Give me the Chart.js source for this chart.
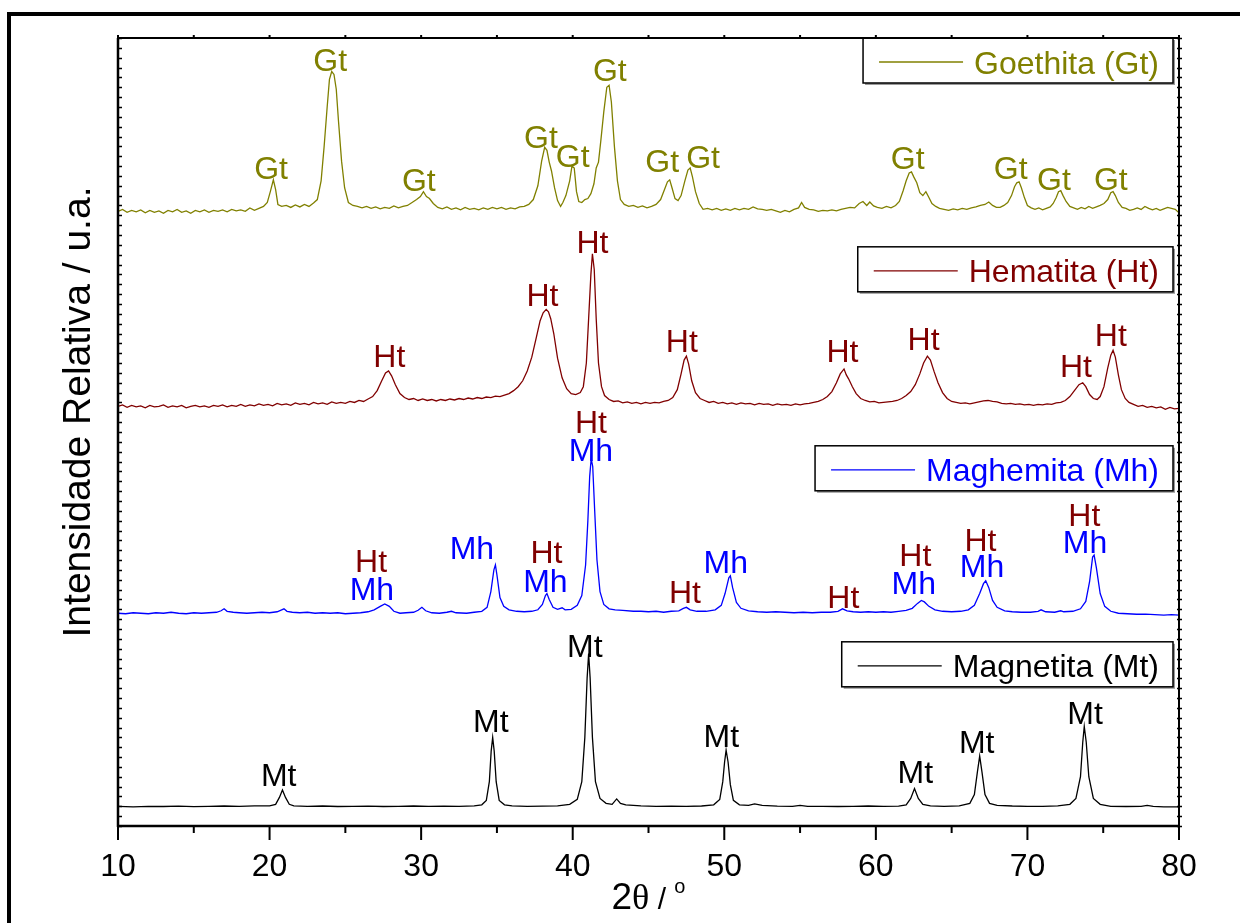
<!DOCTYPE html>
<html>
<head>
<meta charset="utf-8">
<title>DRX - óxidos de ferro</title>
<script src="https://cdn.jsdelivr.net/npm/chart.js@4.4.0/dist/chart.umd.min.js"></script>
<style>
  html, body { margin: 0; padding: 0; background: #ffffff; }
  #wrap { width: 1240px; height: 923px; position: relative; }
</style>
</head>
<body>
<div id="wrap"><canvas id="xrd" width="1240" height="923"></canvas></div>
<script>
// Diffraction patterns, stacked with a vertical offset: [2θ (°), intensity (u.a.)]
const goethitaPattern = [
  [10.0,62.4],[10.3,62.6],[10.6,62.3],[10.9,62.5],[11.2,62.35],[11.5,62.55],[11.8,62.25],[12.1,62.5],
  [12.4,62.3],[12.7,62.45],[13.0,62.2],[13.3,62.5],[13.6,62.35],[13.9,62.6],[14.2,62.3],[14.5,62.45],
  [14.8,62.2],[15.1,62.5],[15.4,62.35],[15.7,62.55],[16.0,62.3],[16.3,62.5],[16.6,62.4],[16.9,62.55],
  [17.2,62.35],[17.5,62.6],[17.8,62.45],[18.1,62.55],[18.4,62.4],[18.7,62.75],[19.0,62.5],[19.3,62.7],
  [19.6,62.9],[19.85,63.3],[20.05,64.4],[20.25,65.6],[20.4,64.6],[20.55,63.1],[20.8,62.9],[21.1,63.0],
  [21.4,62.8],[21.7,63.05],[22.0,62.85],[22.3,63.1],[22.6,62.9],[22.9,63.25],[23.15,63.6],[23.4,65.5],
  [23.6,69.0],[23.8,73.0],[23.95,75.8],[24.1,76.6],[24.25,76.3],[24.4,74.8],[24.55,71.5],[24.75,67.5],
  [24.95,64.8],[25.2,63.3],[25.5,63.0],[25.8,62.9],[26.1,62.75],[26.4,62.9],[26.7,62.7],[27.0,62.85],
  [27.3,62.65],[27.6,62.8],[27.9,62.7],[28.2,62.95],[28.5,62.75],[28.8,62.9],[29.1,63.0],[29.4,63.3],
  [29.7,63.6],[29.95,63.9],[30.15,64.4],[30.35,63.9],[30.55,63.7],[30.8,63.2],[31.1,62.8],[31.4,62.65],
  [31.7,62.85],[32.0,62.6],[32.3,62.75],[32.6,62.55],[32.9,62.8],[33.2,62.6],[33.5,62.7],[33.8,62.55],
  [34.1,62.75],[34.4,62.6],[34.7,62.8],[35.0,62.65],[35.3,62.8],[35.6,62.6],[35.9,62.75],[36.2,62.65],
  [36.5,62.85],[36.8,62.9],[37.1,63.1],[37.4,63.6],[37.7,65.0],[37.95,67.5],[38.15,68.9],[38.3,68.6],
  [38.45,67.4],[38.6,66.5],[38.8,64.8],[39.0,63.5],[39.2,62.9],[39.35,63.3],[39.55,64.0],[39.8,65.5],
  [39.95,67.0],[40.1,66.8],[40.25,64.4],[40.4,63.4],[40.6,63.3],[40.8,63.6],[41.0,63.7],[41.2,64.2],
  [41.4,65.2],[41.55,66.8],[41.7,67.4],[41.85,69.5],[42.05,72.5],[42.25,75.0],[42.4,75.2],[42.55,73.5],
  [42.75,69.0],[42.95,65.5],[43.15,63.6],[43.4,63.1],[43.7,62.9],[44.0,63.0],[44.3,62.8],[44.6,62.95],
  [44.9,62.75],[45.2,62.9],[45.5,63.1],[45.8,63.6],[46.05,64.6],[46.25,65.4],[46.4,65.6],[46.55,64.8],
  [46.75,63.7],[46.95,63.5],[47.15,64.0],[47.4,65.5],[47.6,66.6],[47.75,66.8],[47.9,65.9],[48.1,64.4],
  [48.35,63.2],[48.6,62.6],[48.9,62.7],[49.2,62.55],[49.5,62.7],[49.8,62.5],[50.1,62.65],[50.4,62.5],
  [50.7,62.7],[51.0,62.55],[51.3,62.7],[51.6,62.6],[51.9,62.85],[52.2,62.65],[52.5,62.6],[52.8,62.5],
  [53.1,62.6],[53.4,62.45],[53.7,62.3],[54.0,62.5],[54.3,62.35],[54.6,62.6],[54.9,62.75],[55.1,63.3],
  [55.3,62.8],[55.6,62.6],[55.9,62.55],[56.2,62.4],[56.5,62.5],[56.8,62.45],[57.1,62.55],[57.4,62.45],
  [57.7,62.6],[58.0,62.7],[58.3,62.8],[58.6,62.75],[58.9,63.2],[59.15,63.4],[59.4,63.0],[59.6,63.35],
  [59.85,62.95],[60.1,62.8],[60.4,62.7],[60.7,62.9],[61.0,62.75],[61.3,63.0],[61.55,63.4],[61.8,64.5],
  [62.0,65.5],[62.2,66.3],[62.35,66.4],[62.5,65.9],[62.7,65.3],[62.9,64.3],[63.1,64.0],[63.3,64.4],
  [63.5,63.8],[63.7,63.2],[63.95,62.9],[64.2,62.7],[64.5,62.6],[64.8,62.5],[65.1,62.65],[65.4,62.55],
  [65.7,62.7],[66.0,62.6],[66.3,62.75],[66.6,62.85],[66.9,63.0],[67.2,63.1],[67.45,63.35],[67.7,63.0],
  [67.95,62.8],[68.2,62.8],[68.45,63.0],[68.7,63.3],[68.95,64.0],[69.15,64.9],[69.3,65.3],[69.45,65.4],
  [69.6,64.8],[69.8,63.8],[70.0,63.0],[70.25,62.75],[70.5,62.6],[70.75,62.75],[71.0,62.55],[71.25,62.7],
  [71.5,62.85],[71.7,63.2],[71.9,63.8],[72.05,64.4],[72.2,64.5],[72.35,64.0],[72.55,63.4],[72.8,62.9],
  [73.05,62.75],[73.3,62.6],[73.55,62.8],[73.8,62.65],[74.05,62.9],[74.3,62.7],[74.55,62.85],[74.8,63.0],
  [75.05,63.2],[75.3,63.6],[75.5,64.3],[75.65,64.4],[75.8,64.0],[76.0,63.3],[76.25,62.8],[76.5,62.7],
  [76.75,62.5],[77.0,62.6],[77.25,62.75],[77.5,62.6],[77.75,62.9],[78.0,62.7],[78.25,62.55],[78.5,62.7],
  [78.75,62.5],[79.0,62.65],[79.25,62.8],[79.5,62.7],[79.75,62.6],[80.0,62.25]
];

const hematitaPattern = [
  [10.0,42.6],[10.3,42.75],[10.6,42.5],[10.9,42.7],[11.2,42.55],[11.5,42.65],[11.8,42.45],[12.1,42.7],
  [12.4,42.55],[12.7,42.6],[13.0,42.75],[13.3,42.5],[13.6,42.65],[13.9,42.55],[14.2,42.7],[14.5,42.45],
  [14.8,42.6],[15.1,42.7],[15.4,42.55],[15.7,42.65],[16.0,42.5],[16.3,42.7],[16.6,42.6],[16.9,42.75],
  [17.2,42.55],[17.5,42.7],[17.8,42.6],[18.1,42.8],[18.4,42.6],[18.7,42.75],[19.0,42.65],[19.3,42.85],
  [19.6,42.7],[19.9,42.8],[20.2,42.65],[20.5,42.9],[20.8,42.75],[21.1,42.85],[21.4,42.7],[21.7,42.95],
  [22.0,42.8],[22.3,42.9],[22.6,42.75],[22.9,43.0],[23.2,42.85],[23.5,42.95],[23.8,42.8],[24.1,43.05],
  [24.4,42.9],[24.7,43.0],[25.0,42.9],[25.3,43.1],[25.6,43.0],[25.9,43.2],[26.2,43.1],[26.5,43.35],
  [26.8,43.6],[27.1,44.2],[27.4,45.2],[27.65,46.0],[27.85,46.2],[28.05,45.7],[28.3,44.8],[28.6,43.9],
  [28.9,43.5],[29.2,43.3],[29.5,43.4],[29.8,43.2],[30.1,43.35],[30.4,43.2],[30.7,43.3],[31.0,43.15],
  [31.3,43.3],[31.6,43.2],[31.9,43.35],[32.2,43.25],[32.5,43.4],[32.8,43.3],[33.1,43.45],[33.4,43.35],
  [33.7,43.5],[34.0,43.4],[34.3,43.55],[34.6,43.5],[34.9,43.65],[35.2,43.6],[35.5,43.75],[35.8,43.9],
  [36.1,44.2],[36.4,44.6],[36.7,45.2],[37.0,46.2],[37.3,47.6],[37.6,49.6],[37.85,51.3],[38.05,52.1],
  [38.25,52.45],[38.4,52.2],[38.55,51.5],[38.75,50.0],[39.0,47.5],[39.3,45.5],[39.6,44.4],[39.9,43.9],
  [40.2,43.8],[40.5,44.0],[40.7,44.6],[40.9,47.0],[41.05,51.5],[41.2,56.0],[41.3,58.1],[41.42,56.5],
  [41.55,51.5],[41.7,47.0],[41.9,44.6],[42.1,43.7],[42.4,43.3],[42.7,43.1],[43.0,43.15],[43.3,42.95],
  [43.6,43.05],[43.9,42.9],[44.2,43.0],[44.5,42.85],[44.8,43.0],[45.1,42.9],[45.4,43.0],[45.7,42.95],
  [46.0,43.1],[46.3,43.2],[46.6,43.5],[46.9,44.3],[47.15,45.9],[47.35,47.3],[47.5,47.7],[47.65,46.9],
  [47.85,45.2],[48.1,44.0],[48.4,43.4],[48.7,43.2],[49.0,43.0],[49.3,43.1],[49.6,42.9],[49.9,43.0],
  [50.2,42.85],[50.5,42.95],[50.8,42.8],[51.1,42.95],[51.4,42.85],[51.7,42.9],[52.0,42.75],[52.3,42.9],
  [52.6,42.8],[52.9,42.85],[53.2,42.7],[53.5,42.85],[53.8,42.75],[54.1,42.8],[54.4,42.7],[54.7,42.85],
  [55.0,42.75],[55.3,42.85],[55.6,42.9],[55.9,43.0],[56.2,43.1],[56.5,43.3],[56.8,43.6],[57.1,44.1],
  [57.4,45.0],[57.65,45.9],[57.9,46.4],[58.05,45.8],[58.2,45.4],[58.45,44.6],[58.7,43.9],[59.0,43.4],
  [59.3,43.2],[59.6,43.05],[59.9,43.1],[60.2,42.95],[60.5,43.0],[60.8,43.05],[61.1,43.1],[61.4,43.2],
  [61.7,43.4],[62.0,43.7],[62.3,44.1],[62.6,44.8],[62.9,45.9],[63.15,47.0],[63.4,47.7],[63.6,47.3],
  [63.85,46.1],[64.1,45.0],[64.4,44.0],[64.7,43.4],[65.0,43.1],[65.3,43.0],[65.6,42.9],[65.9,42.95],
  [66.2,42.85],[66.5,42.95],[66.8,43.05],[67.1,43.15],[67.4,43.2],[67.7,43.1],[68.0,43.05],[68.3,42.9],
  [68.6,42.85],[68.9,42.9],[69.2,42.8],[69.5,42.85],[69.8,42.75],[70.1,42.8],[70.4,42.7],[70.7,42.8],
  [71.0,42.75],[71.3,42.85],[71.6,42.8],[71.9,42.95],[72.2,43.0],[72.5,43.2],[72.8,43.6],[73.1,44.2],
  [73.4,44.8],[73.65,45.0],[73.85,44.6],[74.1,43.8],[74.35,43.4],[74.6,43.3],[74.8,43.6],[75.05,44.6],
  [75.3,46.5],[75.5,47.8],[75.65,48.3],[75.8,47.6],[76.0,45.8],[76.2,44.3],[76.45,43.4],[76.7,43.0],
  [77.0,42.8],[77.3,42.6],[77.6,42.7],[77.9,42.5],[78.2,42.6],[78.5,42.45],[78.8,42.55],[79.1,42.3],
  [79.4,42.5],[79.7,42.35],[80.0,42.4]
];

const maghemitaPattern = [
  [10.0,21.6],[10.5,21.55],[11.0,21.65],[11.5,21.6],[12.0,21.55],[12.5,21.65],[13.0,21.6],[13.5,21.7],
  [14.0,21.6],[14.5,21.55],[15.0,21.65],[15.5,21.6],[16.0,21.65],[16.5,21.7],[16.8,21.85],[17.0,22.05],
  [17.2,21.8],[17.6,21.7],[18.0,21.65],[18.5,21.6],[19.0,21.65],[19.5,21.7],[20.0,21.65],[20.5,21.75],
  [20.8,21.95],[20.95,22.05],[21.15,21.8],[21.5,21.7],[22.0,21.65],[22.5,21.7],[23.0,21.6],[23.5,21.65],
  [24.0,21.6],[24.5,21.65],[25.0,21.55],[25.5,21.6],[26.0,21.65],[26.5,21.75],[26.9,21.95],[27.3,22.3],
  [27.6,22.55],[27.9,22.3],[28.2,21.8],[28.6,21.6],[29.0,21.65],[29.5,21.7],[29.8,21.9],[30.05,22.2],
  [30.3,21.85],[30.7,21.65],[31.2,21.6],[31.7,21.7],[32.0,21.8],[32.3,21.65],[33.0,21.6],[33.5,21.7],
  [34.0,21.8],[34.35,22.2],[34.6,23.8],[34.8,26.0],[34.9,26.5],[35.0,25.5],[35.2,23.2],[35.45,22.3],
  [35.8,21.95],[36.3,21.8],[36.8,21.75],[37.3,21.8],[37.7,21.95],[38.0,22.5],[38.2,23.4],[38.3,23.6],
  [38.45,23.0],[38.7,22.2],[39.0,22.0],[39.3,22.15],[39.5,21.95],[39.9,22.0],[40.3,22.4],[40.6,23.4],
  [40.85,26.5],[41.0,31.0],[41.12,35.5],[41.22,37.3],[41.32,36.5],[41.45,32.0],[41.6,27.0],[41.8,23.8],
  [42.05,22.5],[42.4,22.05],[42.8,21.95],[43.3,21.9],[44.0,21.8],[44.5,21.8],[45.0,21.75],[45.5,21.8],
  [46.0,21.7],[46.5,21.8],[47.0,21.85],[47.3,22.1],[47.5,22.2],[47.75,21.95],[48.2,21.8],[48.8,21.8],
  [49.4,21.95],[49.8,22.4],[50.05,23.6],[50.3,25.2],[50.4,25.4],[50.55,24.2],[50.8,22.7],[51.1,22.1],
  [51.6,21.85],[52.2,21.75],[52.8,21.7],[53.4,21.75],[54.0,21.7],[54.6,21.65],[55.2,21.7],[55.8,21.65],
  [56.4,21.7],[57.0,21.7],[57.5,21.8],[57.8,22.05],[58.1,21.85],[58.5,21.75],[59.0,21.7],[59.5,21.75],
  [60.0,21.7],[60.5,21.75],[61.0,21.7],[61.5,21.8],[62.0,21.9],[62.4,22.1],[62.75,22.6],[63.0,22.9],
  [63.2,22.75],[63.5,22.3],[63.9,21.95],[64.4,21.8],[65.0,21.75],[65.6,21.8],[66.1,21.95],[66.5,22.4],
  [66.85,23.6],[67.1,24.6],[67.25,24.9],[67.45,24.2],[67.7,22.9],[68.0,22.2],[68.5,21.85],[69.0,21.75],
  [69.6,21.7],[70.2,21.7],[70.7,21.8],[70.9,21.95],[71.2,21.75],[71.8,21.7],[72.2,21.85],[72.4,21.75],
  [73.0,21.8],[73.5,22.05],[73.85,22.8],[74.1,24.8],[74.3,27.3],[74.4,27.5],[74.55,26.2],[74.8,23.6],
  [75.1,22.3],[75.5,21.8],[76.0,21.6],[76.6,21.55],[77.2,21.5],[77.8,21.5],[78.4,21.45],[79.0,21.4],
  [79.5,21.45],[80.0,21.4]
];

const magnetitaPattern = [
  [10.0,2.0],[11.0,1.95],[12.0,2.0],[13.0,1.98],[14.0,2.02],[15.0,1.97],[16.0,2.0],[17.0,2.03],
  [18.0,2.0],[19.0,2.05],[20.0,2.05],[20.4,2.2],[20.65,2.9],[20.85,3.65],[21.05,2.9],[21.3,2.2],
  [21.6,2.05],[22.5,2.0],[23.5,2.03],[24.5,1.98],[25.5,2.0],[26.5,2.02],[27.5,1.98],[28.5,2.0],
  [29.5,2.03],[30.5,2.0],[31.5,2.02],[32.5,2.0],[33.5,2.05],[34.0,2.15],[34.3,2.6],[34.5,4.5],
  [34.62,7.6],[34.72,9.0],[34.82,7.6],[34.95,4.5],[35.15,2.6],[35.5,2.15],[36.0,2.05],[37.0,2.0],
  [38.0,2.02],[39.0,2.05],[39.8,2.2],[40.3,2.7],[40.6,4.5],[40.8,9.0],[40.95,15.0],[41.05,17.5],
  [41.15,15.0],[41.3,9.0],[41.5,4.5],[41.8,2.8],[42.2,2.3],[42.6,2.2],[42.9,2.75],[43.15,2.3],
  [43.5,2.15],[44.5,2.05],[45.5,2.0],[46.5,2.02],[47.5,2.0],[48.5,2.03],[49.3,2.15],[49.7,2.7],
  [49.9,4.5],[50.02,6.5],[50.12,7.7],[50.25,6.5],[50.4,4.2],[50.6,2.6],[51.0,2.15],[51.6,2.1],
  [52.0,2.25],[52.5,2.1],[53.5,2.02],[54.5,2.0],[55.0,2.1],[55.5,2.0],[56.5,2.0],[57.5,1.98],
  [58.5,2.0],[59.5,2.03],[60.5,2.0],[61.5,2.02],[62.0,2.15],[62.3,2.8],[62.55,3.8],[62.8,2.8],
  [63.1,2.2],[63.6,2.05],[64.5,2.0],[65.5,2.05],[66.2,2.3],[66.5,3.2],[66.7,5.5],[66.85,7.1],
  [67.0,5.5],[67.2,3.2],[67.5,2.3],[68.0,2.1],[69.0,2.03],[70.0,2.0],[71.0,2.0],[72.0,2.05],
  [72.8,2.2],[73.2,2.8],[73.5,5.0],[73.65,8.5],[73.75,10.1],[73.88,8.5],[74.05,5.0],[74.35,2.8],
  [74.8,2.2],[75.5,2.0],[76.5,1.98],[77.5,2.0],[77.9,2.1],[78.3,2.0],[79.0,1.95],[80.0,1.95]
];

// Phase identification marks: [2θ, intensity at the text baseline]
const goethitaMarks = [[20.1,65.7],[24.0,76.6],[29.85,64.5],[37.9,68.8],[40.0,66.9],[42.45,75.6],
  [45.9,66.4],[48.6,66.8],[62.1,66.7],[68.9,65.65],[71.75,64.6],[75.5,64.6]];
const hematitaMarks = [[27.9,46.6],[38.0,52.8],[41.3,58.2],[47.2,48.15],[57.8,47.1],[63.15,48.3],
  [73.2,45.6],[75.5,48.7]];
const maghemitaHtMarks = [[26.7,25.8],[38.27,26.7],[41.2,39.9],[47.4,22.6],[57.85,22.1],[62.6,26.4],
  [66.9,27.95],[73.75,30.45]];
const maghemitaMhMarks = [[26.75,22.9],[33.35,27.1],[38.2,23.8],[41.2,37.05],[50.1,25.7],[62.5,23.6],
  [67.0,25.3],[73.8,27.7]];
const magnetitaMarks = [[20.6,4.05],[34.6,9.5],[40.8,17.2],[49.8,8.05],[62.6,4.35],[66.65,7.4],[73.8,10.35]];

const seriesNames = ['Goethita (Gt)', 'Hematita (Ht)', 'Maghemita (Mh)', 'Magnetita (Mt)'];
const xTicks = [10, 20, 30, 40, 50, 60, 70, 80];

const OLIVE = '#808000', MAROON = '#800000', BLUE = '#0000ff', BLACK = '#000000';
const SANS = '"Liberation Sans", Arial, Helvetica, sans-serif';

const toXY = arr => arr.map(([x, y]) => ({ x, y }));

// Tick marks, frame, axis titles, phase marks and boxed legends
const decor = {
  id: 'decor',
  beforeDraw(chart) {
    const { ctx, width, height } = chart;
    ctx.save();
    ctx.fillStyle = '#ffffff';
    ctx.fillRect(0, 0, width, height);
    ctx.fillStyle = '#000000';
    ctx.fillRect(7, 12, width - 7, 4);   // outer frame, top edge
    ctx.fillRect(7, 12, 4, height - 12); // outer frame, left edge
    ctx.restore();
  },
  afterDatasetsDraw(chart, args, opts) {
    const { ctx, chartArea: a, scales: { x, y } } = chart;
    ctx.save();

    // phase marks
    ctx.font = '32px ' + SANS;
    ctx.textAlign = 'center';
    ctx.textBaseline = 'alphabetic';
    opts.marks.forEach(group => {
      ctx.fillStyle = group.color;
      group.at.forEach(([tt, v]) => ctx.fillText(group.text, x.getPixelForValue(tt), y.getPixelForValue(v)));
    });

    // boxed legends, one per pattern
    opts.legends.forEach(lg => {
      const ds = chart.data.datasets[lg.dataset];
      ctx.font = '32px ' + SANS;
      const tw = ctx.measureText(ds.label).width;
      const h = 45;
      const right = a.right - 6;
      const left = right - (16 + 84 + 11 + tw + 14);
      const top = y.getPixelForValue(lg.top);
      ctx.fillStyle = '#9a9a9a';
      ctx.fillRect(left + 2, top + 2, right - left, h);
      ctx.fillStyle = '#ffffff';
      ctx.fillRect(left, top, right - left, h);
      ctx.strokeStyle = '#000000';
      ctx.lineWidth = 1.5;
      ctx.strokeRect(left, top, right - left, h);
      ctx.strokeStyle = ds.borderColor;
      ctx.lineWidth = 1.3;
      ctx.beginPath();
      ctx.moveTo(left + 16, top + 24);
      ctx.lineTo(left + 100, top + 24);
      ctx.stroke();
      ctx.fillStyle = ds.borderColor;
      ctx.textAlign = 'left';
      ctx.fillText(ds.label, left + 111, top + 35.5);
    });
    ctx.restore();
  },
  afterDraw(chart) {
    const { ctx, chartArea: a, scales: { x, y } } = chart;
    ctx.save();
    ctx.strokeStyle = '#000000';

    // tick marks
    ctx.lineWidth = 2;
    ctx.beginPath();
    for (let v = 10; v <= 80; v += 5) {
      const px = x.getPixelForValue(v);
      const len = v % 10 === 0 ? 14 : 7;
      ctx.moveTo(px, a.bottom); ctx.lineTo(px, a.bottom + len);
      ctx.moveTo(px, a.top); ctx.lineTo(px, a.top - 3);
    }
    ctx.stroke();
    ctx.lineWidth = 1.5;
    ctx.beginPath();
    for (let v = 0; v <= 80; v += 1) {
      const py = Math.round(y.getPixelForValue(v)) + 0.5;
      ctx.moveTo(a.left, py); ctx.lineTo(a.left + 4, py);
      ctx.moveTo(a.right - 2, py); ctx.lineTo(a.right + 3, py);
    }
    ctx.stroke();

    // axis frame
    ctx.lineWidth = 2.5;
    ctx.beginPath();
    ctx.moveTo(a.left, a.top); ctx.lineTo(a.left, a.bottom + 1);
    ctx.moveTo(a.left - 1, a.bottom); ctx.lineTo(a.right + 1, a.bottom);
    ctx.stroke();
    ctx.lineWidth = 2;
    ctx.beginPath();
    ctx.moveTo(a.left, a.top); ctx.lineTo(a.right, a.top);
    ctx.moveTo(a.right, a.top); ctx.lineTo(a.right, a.bottom);
    ctx.stroke();

    // y title
    ctx.fillStyle = '#000000';
    ctx.save();
    ctx.translate(90, 412);
    ctx.rotate(-Math.PI / 2);
    ctx.font = '39px ' + SANS;
    ctx.textAlign = 'center';
    ctx.textBaseline = 'alphabetic';
    ctx.fillText('Intensidade Relativa / u.a.', 0, 0);
    ctx.restore();

    // x title: 2θ / °
    const parts = [
      { t: '2', f: '37px ' + SANS, dy: 0 },
      { t: 'θ', f: '36px "Liberation Serif", "Times New Roman", serif', dy: 0 },
      { t: ' / ', f: '30px ' + SANS, dy: 0 },
      { t: 'o', f: '20px ' + SANS, dy: -16 }
    ];
    let total = 0;
    parts.forEach(p => { ctx.font = p.f; p.w = ctx.measureText(p.t).width; total += p.w; });
    let cx = (a.left + a.right) / 2 - total / 2;
    ctx.textAlign = 'left';
    parts.forEach(p => { ctx.font = p.f; ctx.fillText(p.t, cx, 909 + p.dy); cx += p.w; });
    ctx.restore();
  }
};

const chart = new Chart(document.getElementById('xrd'), {
  type: 'line',
  data: {
    datasets: [
      { label: seriesNames[0], data: toXY(goethitaPattern), borderColor: OLIVE },
      { label: seriesNames[1], data: toXY(hematitaPattern), borderColor: MAROON },
      { label: seriesNames[2], data: toXY(maghemitaPattern), borderColor: BLUE },
      { label: seriesNames[3], data: toXY(magnetitaPattern), borderColor: BLACK }
    ].map(d => Object.assign(d, { borderWidth: 1.3, pointRadius: 0, tension: 0, fill: false }))
  },
  options: {
    responsive: false,
    animation: false,
    devicePixelRatio: 1,
    layout: { padding: { left: 0, top: 38, right: 61, bottom: 0 } },
    scales: {
      x: {
        type: 'linear', min: 10, max: 80,
        afterFit: s => { s.height = 97; },
        afterBuildTicks: s => { s.ticks = xTicks.map(v => ({ value: v })); },
        grid: { display: false },
        border: { display: false },
        ticks: { color: '#000', font: { family: SANS, size: 32 }, padding: 14, maxRotation: 0, autoSkip: false }
      },
      y: {
        type: 'linear', min: 0, max: 80,
        afterFit: s => { s.width = 118; },
        grid: { display: false },
        border: { display: false },
        ticks: { display: false }
      }
    },
    plugins: {
      legend: { display: false },
      tooltip: { enabled: false },
      decor: {
        marks: [
          { text: 'Gt', color: OLIVE, at: goethitaMarks },
          { text: 'Ht', color: MAROON, at: hematitaMarks },
          { text: 'Ht', color: MAROON, at: maghemitaHtMarks },
          { text: 'Mh', color: BLUE, at: maghemitaMhMarks },
          { text: 'Mt', color: BLACK, at: magnetitaMarks }
        ],
        legends: [
          { dataset: 0, top: 80.0 },
          { dataset: 1, top: 58.8 },
          { dataset: 2, top: 38.6 },
          { dataset: 3, top: 18.7 }
        ]
      }
    }
  },
  plugins: [decor]
});
</script>
</body>
</html>
